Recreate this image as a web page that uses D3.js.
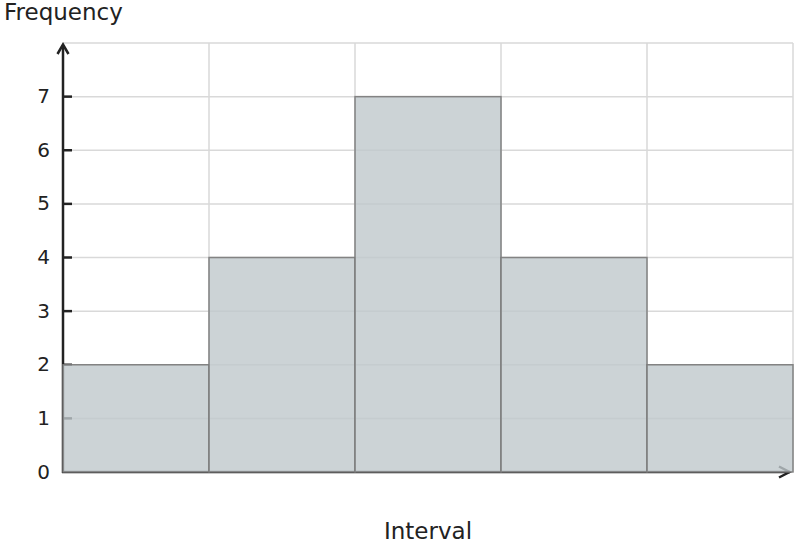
<!DOCTYPE html>
<html><head><meta charset="utf-8">
<script src="https://cdn.jsdelivr.net/npm/d3@7"></script>
<style>body{margin:0;background:#fff}svg{display:block;font-family:"DejaVu Sans",sans-serif}</style>
</head><body><svg id="c" width="796" height="548"></svg>
<script>
const intervals = ["A","B","C","D","E"];
const frequencies = [2,4,7,4,2];
const yTicks = [0,1,2,3,4,5,6,7];

const svg = d3.select("#c");
const L=63, R=793, T=43, B=472;
const x = d3.scaleBand().domain(intervals).range([L,R]).padding(0);
const y = d3.scaleLinear().domain([0,8]).range([B,T]);

// grid
const g = svg.append("g");
g.selectAll(".hg").data(yTicks.slice(1).concat([8])).join("line")
  .attr("x1",L).attr("x2",R).attr("y1",d=>y(d)).attr("y2",d=>y(d))
  .attr("stroke","#d9d9d9").attr("stroke-width",1.5);
g.selectAll(".vg").data(intervals.slice(1)).join("line")
  .attr("x1",d=>x(d)).attr("x2",d=>x(d)).attr("y1",T).attr("y2",B)
  .attr("stroke","#d9d9d9").attr("stroke-width",1.5);
g.append("line").attr("x1",R).attr("x2",R).attr("y1",T).attr("y2",B).attr("stroke","#d9d9d9").attr("stroke-width",1.5);

// axes
const ax = svg.append("g").attr("stroke","#222").attr("fill","none");
ax.append("line").attr("x1",L).attr("x2",L).attr("y1",B+1).attr("y2",T+2).attr("stroke-width",2.5);
ax.append("path").attr("d",`M${L-5.5},${T+11}L${L},${T+1.5}L${L+5.5},${T+11}`).attr("stroke-width",2.5);
ax.append("line").attr("x1",L-1).attr("x2",R-3).attr("y1",B).attr("y2",B).attr("stroke-width",2.5);
ax.append("path").attr("d",`M${R-14},${B-5.5}L${R-3.5},${B}L${R-14},${B+5.5}`).attr("stroke-width",2.5);
ax.selectAll(".tk").data(yTicks.slice(1)).join("line")
  .attr("x1",L).attr("x2",L+9).attr("y1",d=>y(d)).attr("y2",d=>y(d)).attr("stroke-width",2.5);

svg.append("g").selectAll("text").data(yTicks).join("text")
  .attr("x",50).attr("y",d=>y(d)).attr("dy","0.33em").attr("text-anchor","end")
  .attr("font-size",20).attr("fill","#222").text(d=>d);

// bars
svg.append("g").selectAll("rect").data(frequencies).join("rect")
  .attr("x",(d,i)=>x(intervals[i])).attr("width",x.bandwidth())
  .attr("y",d=>y(d)).attr("height",d=>B-y(d))
  .attr("fill","rgb(191,200,204)").attr("fill-opacity",0.8)
  .attr("stroke","#7a7a7a").attr("stroke-opacity",0.9).attr("stroke-width",1.5);

svg.append("text").attr("x",4).attr("y",20).attr("font-size",23).attr("fill","#222").text("Frequency");
svg.append("text").attr("x",428).attr("y",539).attr("text-anchor","middle").attr("font-size",23).attr("fill","#222").text("Interval");
</script></body></html>
